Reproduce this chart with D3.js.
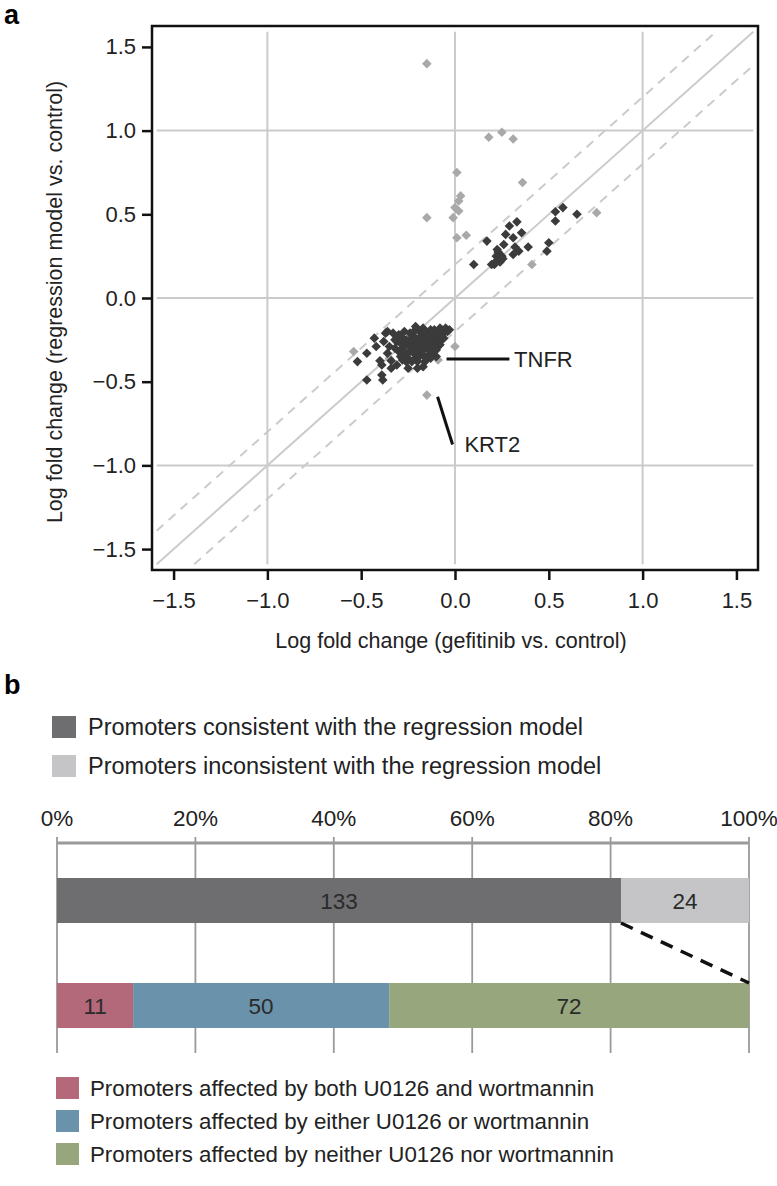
<!DOCTYPE html>
<html>
<head>
<meta charset="utf-8">
<script src="https://cdn.jsdelivr.net/npm/d3@7"></script>
<style>
  html, body { margin: 0; padding: 0; background: #fff; }
  svg { display: block; font-family: "Liberation Sans", Arial, Helvetica, sans-serif; }
</style>
</head>
<body>
<svg id="chart" width="777" height="1186"></svg>
<script>
// ---------------- DATA ----------------
// Panel a: scatter (x = gefitinib vs control, y = regression model vs control)
const consistentPoints = [
  // upper cluster
  [0.10,0.20],[0.17,0.34],[0.29,0.43],[0.33,0.455],[0.27,0.38],[0.31,0.36],[0.355,0.39],
  [0.26,0.32],[0.23,0.275],[0.25,0.25],[0.22,0.25],[0.255,0.235],[0.21,0.20],[0.24,0.215],
  [0.195,0.20],[0.32,0.305],[0.34,0.28],[0.31,0.26],[0.39,0.305],[0.50,0.33],[0.49,0.28],
  [0.535,0.515],[0.575,0.54],[0.535,0.46],[0.65,0.50],[0.225,0.29],[0.245,0.23],[0.215,0.215],
  // lower cluster, left part
  [-0.52,-0.38],[-0.47,-0.33],[-0.47,-0.49],[-0.43,-0.24],[-0.42,-0.29],[-0.40,-0.375],
  [-0.39,-0.40],[-0.39,-0.46],[-0.385,-0.49],[-0.37,-0.21],[-0.35,-0.29],[-0.34,-0.375],
  [-0.33,-0.21],[-0.31,-0.26],[-0.31,-0.40],[-0.36,-0.20],[-0.38,-0.26],[-0.36,-0.33],[-0.34,-0.42],
  // lower cluster, dense core
  [-0.29,-0.23],[-0.29,-0.27],[-0.27,-0.345],[-0.26,-0.38],[-0.24,-0.21],[-0.23,-0.29],
  [-0.22,-0.25],[-0.21,-0.36],[-0.19,-0.20],[-0.18,-0.32],[-0.17,-0.26],[-0.16,-0.38],
  [-0.14,-0.21],[-0.13,-0.30],[-0.12,-0.24],[-0.11,-0.19],[-0.10,-0.26],[-0.09,-0.20],
  [-0.08,-0.23],[-0.07,-0.19],[-0.20,-0.42],[-0.25,-0.42],[-0.28,-0.30],[-0.26,-0.25],
  [-0.24,-0.32],[-0.22,-0.20],[-0.20,-0.28],[-0.18,-0.23],[-0.16,-0.30],[-0.15,-0.25],
  [-0.14,-0.34],[-0.12,-0.28],[-0.11,-0.22],[-0.10,-0.31],[-0.09,-0.25],[-0.13,-0.19],
  [-0.17,-0.18],[-0.21,-0.17],[-0.06,-0.21],[-0.05,-0.18],[-0.08,-0.28],[-0.15,-0.36],
  [-0.19,-0.35],[-0.23,-0.38],[-0.27,-0.20],[-0.30,-0.32],[-0.12,-0.33],[-0.17,-0.41],
  [-0.22,-0.33],[-0.19,-0.24],[-0.14,-0.28],[-0.25,-0.28],[-0.16,-0.21],[-0.10,-0.21],
  [-0.07,-0.25],[-0.13,-0.26],[-0.18,-0.29],[-0.21,-0.24],[-0.24,-0.25],[-0.28,-0.37],
  [-0.32,-0.30],[-0.30,-0.22],[-0.11,-0.29],[-0.15,-0.22],[-0.20,-0.31],[-0.26,-0.33],
  [-0.09,-0.22],[-0.04,-0.20],[-0.12,-0.20],[-0.17,-0.34],[-0.23,-0.22],[-0.27,-0.27],
  [-0.08,-0.18],[-0.20,-0.38],[-0.14,-0.31],[-0.06,-0.24],[-0.16,-0.27],[-0.25,-0.36],
  [-0.29,-0.35],[-0.32,-0.25],[-0.10,-0.35],[-0.21,-0.29],[-0.03,-0.19],[-0.18,-0.20],[-0.13,-0.36]
];
const inconsistentPoints = [
  [-0.15,1.40],[0.01,0.75],[0.18,0.96],[0.25,0.99],[0.31,0.95],[0.36,0.69],[0.03,0.61],
  [0.02,0.58],[0.00,0.54],[0.02,0.52],[-0.01,0.48],[-0.15,0.48],[0.01,0.36],[0.06,0.375],
  [0.41,0.20],[0.755,0.51],[-0.54,-0.32],[0.00,-0.29],[-0.09,-0.37],[-0.15,-0.58],
  [-0.18,-0.27],[-0.28,-0.25],[-0.12,-0.23],[-0.35,-0.36]
];
const scatterTicks = [-1.5, -1.0, -0.5, 0.0, 0.5, 1.0, 1.5];
const gridValues = [-1, 0, 1];
const bandOffset = 0.2;
const annotations = [
  { label: "TNFR", from: [-0.045, -0.365], to: [0.29, -0.365], text: [0.315, -0.365], anchor: "start" },
  { label: "KRT2", from: [-0.093, -0.59], to: [-0.013, -0.875], text: [0.05, -0.875], anchor: "start" }
];
const xTitleA = "Log fold change (gefitinib vs. control)";
const yTitleA = "Log fold change (regression model vs. control)";

// Panel b: stacked bars
const pctTicks = [0, 20, 40, 60, 80, 100];
const rowNames = ["all", "consistent"];
const allCounts = [133, 24];
const allShares = [81.5, 18.5];          // widths as drawn (%)
const consistentCounts = [11, 50, 72];
const consistentShares = [11, 37, 52];   // widths as drawn (%)
const allColors = ["#6e6e70", "#c5c5c7"];
const consistentColors = ["#b4697a", "#6a92aa", "#98a67e"];
const topLegend = ["Promoters consistent with the regression model",
                   "Promoters inconsistent with the regression model"];
const bottomLegend = ["Promoters affected by both U0126 and wortmannin",
                      "Promoters affected by either U0126 or wortmannin",
                      "Promoters affected by neither U0126 nor wortmannin"];

// ---------------- LAYOUT ----------------
const svg = d3.select("#chart");
const FONT = 22;
const A = { left: 152, right: 758, top: 26, bottom: 570 };
const lim = 1.59;

const x = d3.scaleLinear().domain([-1.615, 1.615]).range([A.left, A.right]);
const y = d3.scaleLinear().domain([-1.625, 1.625]).range([A.bottom, A.top]);

// panel label a
svg.append("text").attr("x", 4).attr("y", 24).attr("font-size", 27).attr("font-weight", "bold").text("a");

const gA = svg.append("g");
// grid
gridValues.forEach(v => {
  gA.append("line").attr("x1", x(v)).attr("x2", x(v)).attr("y1", y(-lim)).attr("y2", y(lim))
    .attr("stroke", "#cbcbcb").attr("stroke-width", 2);
  gA.append("line").attr("x1", x(-lim)).attr("x2", x(lim)).attr("y1", y(v)).attr("y2", y(v))
    .attr("stroke", "#cbcbcb").attr("stroke-width", 2);
});
// identity and bands
gA.append("line").attr("x1", x(-lim)).attr("y1", y(-lim)).attr("x2", x(lim)).attr("y2", y(lim))
  .attr("stroke", "#cbcbcb").attr("stroke-width", 2);
gA.append("line").attr("x1", x(-lim)).attr("y1", y(-lim + bandOffset)).attr("x2", x(lim - bandOffset)).attr("y2", y(lim))
  .attr("stroke", "#cbcbcb").attr("stroke-width", 2).attr("stroke-dasharray", "9,7");
gA.append("line").attr("x1", x(-lim + bandOffset)).attr("y1", y(-lim)).attr("x2", x(lim)).attr("y2", y(lim - bandOffset))
  .attr("stroke", "#cbcbcb").attr("stroke-width", 2).attr("stroke-dasharray", "9,7");

// points
const diamond = (cx, cy, r) => `M${cx},${cy - r}L${cx + r},${cy}L${cx},${cy + r}L${cx - r},${cy}Z`;
gA.selectAll(".pi").data(inconsistentPoints).join("path")
  .attr("d", d => diamond(x(d[0]), y(d[1]), 4.8)).attr("fill", "#a9a9a9");
gA.selectAll(".pc").data(consistentPoints).join("path")
  .attr("d", d => diamond(x(d[0]), y(d[1]), 4.8)).attr("fill", "#3b3b3b");

// annotations
annotations.forEach(a => {
  gA.append("line").attr("x1", x(a.from[0])).attr("y1", y(a.from[1]))
    .attr("x2", x(a.to[0])).attr("y2", y(a.to[1])).attr("stroke", "#111").attr("stroke-width", 3);
  gA.append("text").attr("x", x(a.text[0])).attr("y", y(a.text[1])).attr("dy", "0.36em")
    .attr("font-size", FONT).attr("fill", "#222").attr("text-anchor", a.anchor).text(a.label);
});

// frame
gA.append("rect").attr("x", A.left).attr("y", A.top).attr("width", A.right - A.left).attr("height", A.bottom - A.top)
  .attr("fill", "none").attr("stroke", "#111").attr("stroke-width", 2.5);

// axes
const fmt = d3.format(".1f");
const xAxis = d3.axisBottom(x).tickValues(scatterTicks).tickFormat(fmt).tickSize(10).tickPadding(12);
const yAxis = d3.axisLeft(y).tickValues(scatterTicks).tickFormat(fmt).tickSize(10).tickPadding(6);
const gx = svg.append("g").attr("transform", `translate(0,${A.bottom})`).call(xAxis);
const gy = svg.append("g").attr("transform", `translate(${A.left},0)`).call(yAxis);
[gx, gy].forEach(g => {
  g.select(".domain").remove();
  g.selectAll(".tick line").attr("stroke", "#111").attr("stroke-width", 2.5);
  g.selectAll(".tick text").attr("font-size", FONT).attr("fill", "#222")
    .attr("font-family", "'Liberation Sans', Arial, sans-serif");
});
svg.append("text").attr("x", (A.left + A.right) / 2 - 4).attr("y", 648).attr("text-anchor", "middle")
  .attr("font-size", 21.5).attr("fill", "#222").text(xTitleA);
svg.append("text").attr("transform", `translate(62,${(A.top + A.bottom) / 2 + 4}) rotate(-90)`)
  .attr("text-anchor", "middle").attr("font-size", 21.5).attr("fill", "#222").text(yTitleA);

// ---------------- PANEL B ----------------
svg.append("text").attr("x", 4).attr("y", 694).attr("font-size", 27).attr("font-weight", "bold").text("b");

const px = d3.scaleLinear().domain([0, 100]).range([57, 749]);
const rows = d3.scaleBand().domain(rowNames).range([878, 1028]).paddingInner(0.5714).paddingOuter(0);
const axisY = 843, gridBottom = 1053;

// top legend
topLegend.forEach((t, i) => {
  const ly = 727 + i * 39;
  svg.append("rect").attr("x", 52).attr("y", ly - 11).attr("width", 24).attr("height", 22).attr("fill", allColors[i]);
  svg.append("text").attr("x", 88).attr("y", ly).attr("dy", "0.36em").attr("font-size", 23.5).attr("fill", "#222").text(t);
});

// axis + grid
const gB = svg.append("g");
pctTicks.forEach(p => {
  gB.append("line").attr("x1", px(p)).attr("x2", px(p)).attr("y1", axisY - 6).attr("y2", gridBottom)
    .attr("stroke", "#9a9a9a").attr("stroke-width", 1.8);
  gB.append("text").attr("x", px(p)).attr("y", axisY - 25).attr("dy", "0.36em").attr("text-anchor", "middle")
    .attr("font-size", 22.5).attr("fill", "#222").text(p + "%");
});
gB.append("line").attr("x1", px(0)).attr("x2", px(100)).attr("y1", axisY).attr("y2", axisY)
  .attr("stroke", "#9a9a9a").attr("stroke-width", 3);

function stackRow(row, shares, counts, colors) {
  let acc = 0;
  shares.forEach((s, i) => {
    const x0 = acc, x1 = acc + s;
    gB.append("rect").attr("x", px(x0)).attr("y", rows(row)).attr("width", px(x1) - px(x0))
      .attr("height", rows.bandwidth()).attr("fill", colors[i]);
    gB.append("text").attr("x", (px(x0) + px(x1)) / 2).attr("y", rows(row) + rows.bandwidth() / 2)
      .attr("dy", "0.36em").attr("text-anchor", "middle").attr("font-size", 22.5).attr("fill", "#2a2a2a")
      .text(counts[i]);
    acc = x1;
  });
}
stackRow("all", allShares, allCounts, allColors);
stackRow("consistent", consistentShares, consistentCounts, consistentColors);

// dashed connector
gB.append("line").attr("x1", px(allShares[0])).attr("y1", rows("all") + rows.bandwidth())
  .attr("x2", px(100)).attr("y2", rows("consistent"))
  .attr("stroke", "#111").attr("stroke-width", 3.5).attr("stroke-dasharray", "13,9");

// bottom legend
bottomLegend.forEach((t, i) => {
  const ly = 1088 + i * 33;
  svg.append("rect").attr("x", 56).attr("y", ly - 11).attr("width", 23).attr("height", 22).attr("fill", consistentColors[i]);
  svg.append("text").attr("x", 90).attr("y", ly).attr("dy", "0.36em").attr("font-size", 22.3).attr("fill", "#222").text(t);
});
</script>
</body>
</html>
